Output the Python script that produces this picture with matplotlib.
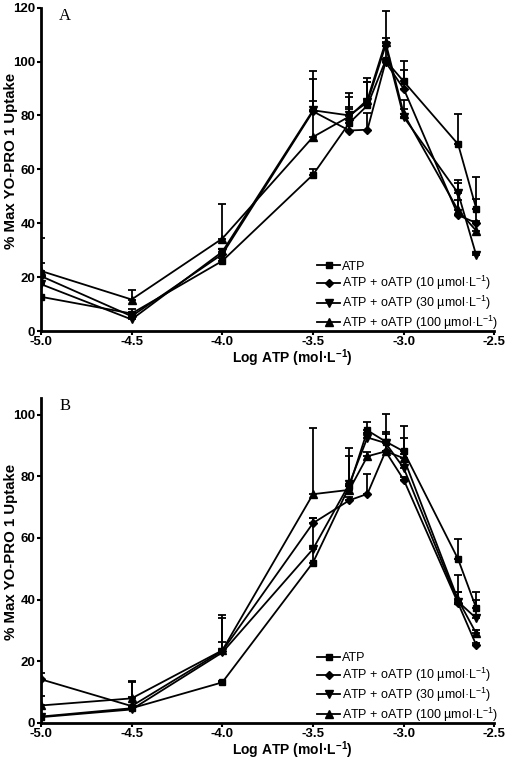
import numpy as np
import matplotlib
matplotlib.use("Agg")
from matplotlib import pyplot as plt
from matplotlib.lines import Line2D

plt.rcParams['font.family'] = ['Liberation Sans', 'DejaVu Sans']
plt.rcParams['axes.unicode_minus'] = False
plt.rcParams['mathtext.default'] = 'regular'

# log ATP concentrations
log_atp = [-5.0, -4.5, -4.0, -3.5, -3.3, -3.2, -3.1, -3.0, -2.7, -2.6]

labels = ['ATP',
          'ATP + oATP (10 µmol·L$^{-1}$)',
          'ATP + oATP (30 µmol·L$^{-1}$)',
          'ATP + oATP (100 µmol·L$^{-1}$)']
markers = ['s', 'D', 'v', '^']
msizes = [5, 4, 5.5, 5.5]

# panel A: means and upper SEM
a_atp = [12.7, 6.5, 26.0, 58.0, 77.2, 83.7, 100.4, 92.6, 69.3, 45.4]
a_atp_sem = [0.0, 1.5, 1.0, 2.2, 5.3, 8.6, 8.3, 7.5, 11.1, 11.8]
a_10 = [20.4, 5.5, 28.5, 81.5, 74.4, 74.7, 99.8, 89.9, 43.0, 40.1]
a_10_sem = [1.0, 1.5, 2.1, 3.7, 8.6, 6.3, 1.0, 7.1, 5.5, 0.9]
a_30 = [17.4, 4.3, 29.4, 81.9, 80.0, 84.9, 105.9, 79.4, 51.2, 28.1]
a_30_sem = [8.0, 0.8, 1.2, 11.6, 6.8, 8.9, 1.0, 3.1, 4.7, 0.9]
a_100 = [22.3, 11.7, 34.3, 72.0, 79.6, 85.8, 107.2, 80.6, 44.8, 37.2]
a_100_sem = [12.4, 3.7, 12.7, 24.4, 8.7, 6.5, 11.7, 5.0, 10.1, 11.9]

# panel B
b_atp = [2.0, 4.7, 13.1, 52.0, 76.7, 94.9, 91.3, 88.1, 53.1, 37.2]
b_atp_sem = [0.5, 0.8, 0.5, 5.2, 12.5, 2.7, 8.9, 8.1, 6.6, 5.4]
b_10 = [14.1, 5.4, 23.3, 64.8, 72.2, 74.3, 88.1, 78.9, 38.8, 25.2]
b_10_sem = [2.2, 7.7, 3.0, 1.6, 1.0, 6.4, 5.6, 1.0, 3.5, 0.8]
b_30 = [1.8, 4.3, 22.8, 56.4, 77.5, 92.6, 90.8, 82.7, 39.3, 33.9]
b_30_sem = [0.7, 4.2, 11.1, 10.0, 9.2, 1.4, 3.6, 9.7, 8.7, 6.0]
b_100 = [5.6, 7.9, 23.5, 74.2, 75.6, 86.5, 88.1, 85.9, 39.9, 29.0]
b_100_sem = [3.2, 5.7, 11.5, 21.5, 1.4, 1.5, 3.1, 1.5, 2.4, 1.0]

xticks = [-5.0, -4.5, -4.0, -3.5, -3.0, -2.5]
xtick_labels = ['-5.0', '-4.5', '-4.0', '-3.5', '-3.0', '-2.5']


def panel(ax, series, sems, letter, ymax, yticks):
    handles = []
    for y, e, m, ms, lab in zip(series, sems, markers, msizes, labels):
        y = np.array(y)
        e = np.array(e)
        ax.errorbar(log_atp, y, yerr=[np.zeros_like(e), e], fmt='-', marker=m,
                    ms=ms, color='black', lw=1.3, elinewidth=1.3,
                    capsize=3, capthick=1.3)
        handles.append(Line2D([], [], color='black', lw=1.3, marker=m, ms=ms, label=lab))
    ax.set_xlim(-5.0, -2.5)
    ax.set_ylim(0, ymax)
    ax.set_xticks(xticks)
    ax.set_xticklabels(xtick_labels)
    ax.set_yticks(yticks)
    ax.spines['top'].set_visible(False)
    ax.spines['right'].set_visible(False)
    ax.spines['left'].set_linewidth(2)
    ax.spines['bottom'].set_linewidth(2)
    ax.tick_params(width=1.5, length=3, labelsize=9.5, pad=1)
    ax.tick_params(axis='x', pad=0.5)
    for t in ax.get_xticklabels() + ax.get_yticklabels():
        t.set_fontweight('bold')
    ax.set_ylabel('% Max YO-PRO 1 Uptake', fontsize=10.8, fontweight='bold')
    ax.yaxis.set_label_coords(-0.05, 0.525)
    ax.set_xlabel('Log ATP (mol·L$^{-1}$)', fontsize=10, fontweight='bold')
    ax.xaxis.set_label_coords(0.555, -0.05)
    ax.text(0.04, 0.998, letter, transform=ax.transAxes, family='Liberation Serif',
            fontsize=12, va='top', ha='left')
    ax.legend(handles=handles, loc='lower right', frameon=False, fontsize=9,
              handlelength=1.9, handletextpad=0.15, labelspacing=0.12,
              borderaxespad=0.0, bbox_to_anchor=(1.02, -0.018))


fig = plt.figure(figsize=(5.05, 7.61), dpi=100)
ax1 = fig.add_axes([0.081, 0.565, 0.898, 0.425])
ax2 = fig.add_axes([0.081, 0.0503, 0.898, 0.427])

panel(ax1, [a_atp, a_10, a_30, a_100], [a_atp_sem, a_10_sem, a_30_sem, a_100_sem],
      'A', 120, [0, 20, 40, 60, 80, 100, 120])
panel(ax2, [b_atp, b_10, b_30, b_100], [b_atp_sem, b_10_sem, b_30_sem, b_100_sem],
      'B', 105.5, [0, 20, 40, 60, 80, 100])

fig.savefig('out.png', dpi=100)
